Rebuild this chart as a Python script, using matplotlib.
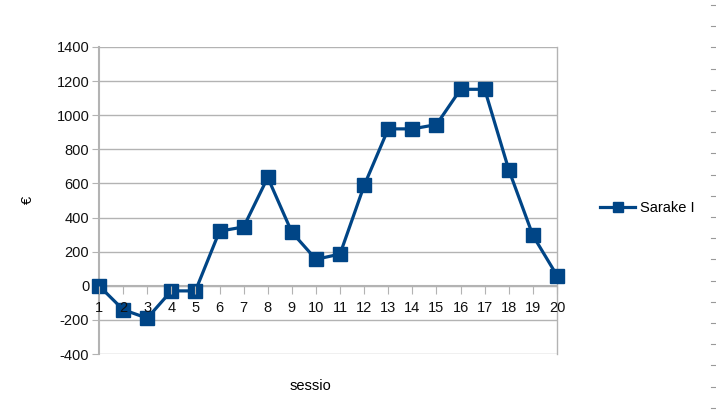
import matplotlib
matplotlib.use('Agg')
import matplotlib.pyplot as plt
from matplotlib.lines import Line2D

plt.rcParams['font.family'] = ['Liberation Sans', 'DejaVu Sans']
plt.rcParams['axes.unicode_minus'] = False

# session numbers and cumulative result (EUR)
sessio = list(range(1, 21))
sarake_1 = [0, -140, -190, -30, -30, 320, 345, 635, 314, 155,
            186, 588, 920, 920, 945, 1152, 1152, 680, 295, 60]
y_ticks = list(range(-400, 1401, 200))

W, H = 716, 419
fig = plt.figure(figsize=(W / 100, H / 100), dpi=100)
ax = fig.add_axes([99 / W, 1 - 354 / H, (557 - 99) / W, (354 - 47) / H])

grid_col = '#b3b3b3'
ax.plot(sessio, sarake_1, color='#004586', lw=2.3, marker='s', ms=9.5,
        label='Sarake I', clip_on=False, zorder=5)

ax.set_xlim(1, 20)
ax.set_ylim(-400, 1400)
ax.set_yticks(y_ticks)
ax.set_xticks(sessio)
ax.yaxis.grid(True, color=grid_col, lw=1)
ax.set_axisbelow(True)
ax.xaxis.set_zorder(6)  # session numbers sit on top of the line

ax.spines['top'].set_visible(False)
ax.spines['bottom'].set_position(('data', 0))
for s in ('left', 'right', 'bottom'):
    ax.spines[s].set_color(grid_col)
ax.spines['left'].set_linewidth(1.5)
ax.spines['right'].set_linewidth(1)
ax.spines['bottom'].set_linewidth(1.5)

ax.tick_params(axis='x', direction='out', length=6, color=grid_col, pad=5,
               labelsize=10.5, labelcolor='#111111')
ax.tick_params(axis='y', direction='out', length=5, color=grid_col, pad=2,
               labelsize=10.5, labelcolor='#111111')

fig.text(28 / W, 1 - 200 / H, '€', rotation=90, ha='center', va='center',
         fontsize=10.5)
fig.text(310 / W, 1 - 386 / H, 'sessio', ha='center', va='center',
         fontsize=10.5)

ax.legend(loc='center left', bbox_to_anchor=(587 / W, 1 - 208 / H),
          bbox_transform=fig.transFigure, frameon=False, fontsize=10.5,
          handlelength=2.4, handletextpad=0.3, markerscale=0.75)

# faint dashed edge on the right side of the screenshot
for k in range(20):
    yy = 1 - (5 + k * 21.2) / H
    fig.add_artist(Line2D([711 / W, 716 / W], [yy, yy], color='#999999', lw=0.8))

fig.savefig('out.png', dpi=100)
